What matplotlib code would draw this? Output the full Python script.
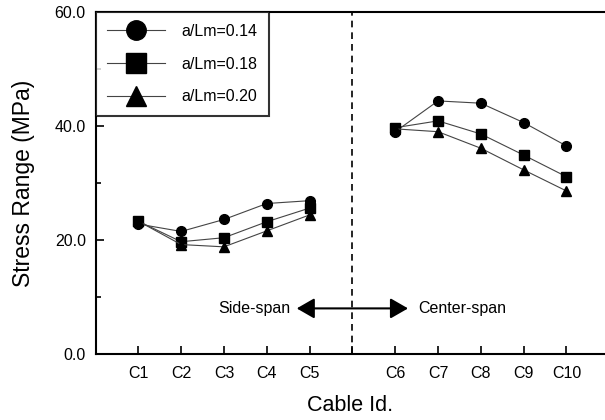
import matplotlib
matplotlib.use("Agg")
import matplotlib.pyplot as plt
from matplotlib.ticker import MultipleLocator

plt.rcParams["font.family"] = ["Liberation Sans", "DejaVu Sans"]

# Dati
cavi = ["C1", "C2", "C3", "C4", "C5", "C6", "C7", "C8", "C9", "C10"]
pos_cavi = [1, 2, 3, 4, 5, 7, 8, 9, 10, 11]
stress_014 = [22.8, 21.5, 23.6, 26.4, 26.9, 39.0, 44.4, 44.0, 40.6, 36.5]
stress_018 = [23.3, 19.7, 20.4, 23.2, 25.6, 39.7, 40.9, 38.6, 34.9, 31.1]
stress_020 = [23.3, 19.2, 18.8, 21.6, 24.4, 39.5, 39.0, 36.1, 32.3, 28.6]
etichette = ["a/Lm=0.14", "a/Lm=0.18", "a/Lm=0.20"]

fig = plt.figure(figsize=(6.05, 4.2), dpi=100)
ax = fig.add_axes([95.5 / 605, 66 / 420, 1 - 95.5 / 605, 342 / 420])

serie = [(stress_014, "o", 7), (stress_018, "s", 7), (stress_020, "^", 7.5)]
for (vals, mk, ms), lab in zip(serie, etichette):
    # lato sinistro e destro separati
    ax.plot(pos_cavi[:5], vals[:5], color="#444444", lw=0.8, marker=mk,
            ms=ms, mfc="black", mec="black", label=lab)
    ax.plot(pos_cavi[5:], vals[5:], color="#444444", lw=0.8, marker=mk,
            ms=ms, mfc="black", mec="black")

ax.axvline(6, color="black", ls=(0, (4, 3)), lw=1.2)
ax.annotate("", xy=(4.7, 8), xytext=(7.3, 8),
            arrowprops=dict(arrowstyle="<|-|>,head_length=0.4,head_width=0.23",
                            color="black", lw=1.5, mutation_scale=27,
                            shrinkA=0, shrinkB=0))
ax.text(4.56, 8, "Side-span", ha="right", va="center", fontsize=11.5)
ax.text(7.53, 8, "Center-span", ha="left", va="center", fontsize=11.5)

ax.set_xlim(0, 11.9)
ax.set_ylim(0, 60)
ax.set_xticks(pos_cavi + [6])
ax.set_xticklabels(cavi + [""])
ax.yaxis.set_major_locator(MultipleLocator(20))
ax.yaxis.set_minor_locator(MultipleLocator(10))
ax.yaxis.set_major_formatter(lambda v, p: f"{v:.1f}")
ax.tick_params(axis="both", which="major", direction="in", length=6, width=1.2,
               labelsize=11.5, pad=7)
ax.tick_params(axis="y", which="minor", direction="in", length=3.5, width=1.2)
ax.tick_params(axis="x", pad=9)
for s in ["left", "bottom", "top"]:
    ax.spines[s].set_linewidth(1.5)
ax.spines["right"].set_visible(False)

ax.set_xlabel("Cable Id.", fontsize=15.5, labelpad=10)
ax.set_ylabel("Stress Range (MPa)", fontsize=16.5, labelpad=14)

leg = ax.legend(loc="upper left", bbox_to_anchor=(0, 1), borderaxespad=0,
                fontsize=11.5, markerscale=2, handlelength=3.6, handletextpad=1.0,
                labelspacing=1.1, borderpad=0.75, fancybox=False, frameon=True)
leg.get_frame().set_edgecolor("black")
leg.get_frame().set_linewidth(1.5)

fig.savefig("out.png", dpi=100)
